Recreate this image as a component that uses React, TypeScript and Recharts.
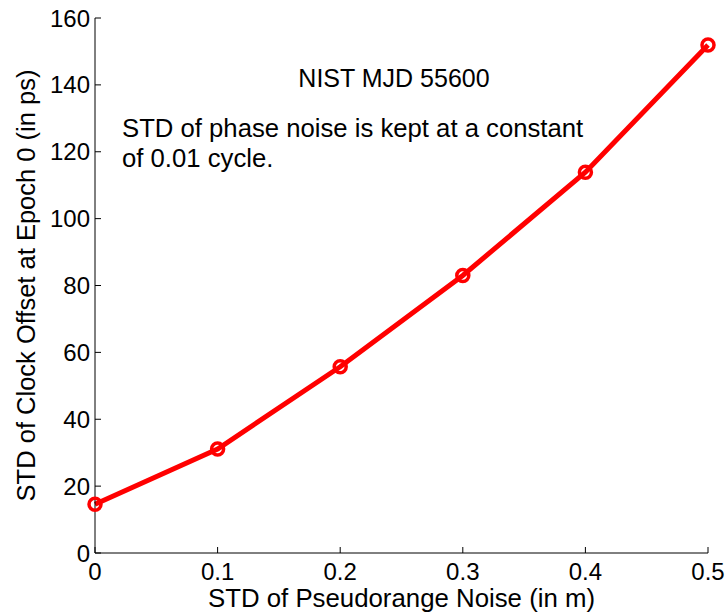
import { LineChart, Line, XAxis, YAxis, Label } from "recharts";

const noise = [0, 0.1, 0.2, 0.3, 0.4, 0.5];
const clockStd = [14.6, 31.1, 55.7, 83.0, 113.9, 151.9];
const xTicks = [0, 0.1, 0.2, 0.3, 0.4, 0.5];
const yTicks = [0, 20, 40, 60, 80, 100, 120, 140, 160];

const data = noise.map((x, i) => ({ x, y: clockStd[i] }));

const FONT = "'Liberation Sans', Arial, sans-serif";
const TICK = 6;

function BottomTick({ x, y, payload }: any) {
  return (
    <g>
      <line x1={x} y1={y} x2={x} y2={y - TICK} stroke="#000" />
      <text x={x} y={y + 27} textAnchor="middle" fontSize={24} fontFamily={FONT} fill="#000">
        {payload.value}
      </text>
    </g>
  );
}

function TopTick({ x, y }: any) {
  return <line x1={x} y1={y} x2={x} y2={y + TICK} stroke="#000" />;
}

function LeftTick({ x, y, payload }: any) {
  return (
    <g>
      <line x1={x} y1={y} x2={x + TICK} y2={y} stroke="#000" />
      <text x={x - 5} y={y + 8.5} textAnchor="end" fontSize={24} fontFamily={FONT} fill="#000">
        {payload.value}
      </text>
    </g>
  );
}

function RightTick({ x, y }: any) {
  return <line x1={x} y1={y} x2={x - TICK} y2={y} stroke="#000" />;
}

export default function App() {
  return (
    <div style={{ position: "absolute", left: 0, top: 0, width: 727, height: 615, background: "#fff" }}>
      <LineChart
        width={727}
        height={615}
        data={data}
        margin={{ top: 18, right: 19, left: 35, bottom: 0 }}
        style={{ overflow: "visible" }}
      >
        <XAxis
          dataKey="x"
          type="number"
          domain={[0, 0.5]}
          ticks={xTicks}
          tickSize={0}
          tickMargin={0}
          tickLine={false}
          height={62}
          axisLine={{ stroke: "#000" }}
          tick={<BottomTick />}
          interval={0}
        >
          <Label
            value="STD of Pseudorange Noise (in m)"
            position="insideBottom"
            offset={0}
            dy={-8}
            style={{ fontSize: 25.8, fontFamily: FONT, fill: "#000" }}
          />
        </XAxis>
        <XAxis
          xAxisId="top"
          dataKey="x"
          type="number"
          orientation="top"
          domain={[0, 0.5]}
          ticks={xTicks}
          tickSize={0}
          tickMargin={0}
          tickLine={false}
          height={0}
          axisLine={{ stroke: "#000" }}
          tick={<TopTick />}
          interval={0}
        />
        <YAxis
          type="number"
          domain={[0, 160]}
          ticks={yTicks}
          tickSize={0}
          tickMargin={0}
          tickLine={false}
          width={60}
          axisLine={{ stroke: "#000" }}
          tick={<LeftTick />}
          interval={0}
        >
          <Label
            value="STD of Clock Offset at Epoch 0 (in ps)"
            angle={-90}
            position="insideLeft"
            offset={0}
            dx={-9}
            style={{ fontSize: 25.5, fontFamily: FONT, fill: "#000", textAnchor: "middle" }}
          />
        </YAxis>
        <YAxis
          yAxisId="right"
          type="number"
          orientation="right"
          domain={[0, 160]}
          ticks={yTicks}
          tickSize={0}
          tickMargin={0}
          tickLine={false}
          width={0}
          axisLine={{ stroke: "#000" }}
          tick={<RightTick />}
          interval={0}
        />
        <Line
          dataKey="y"
          type="linear"
          stroke="#ff0000"
          strokeWidth={5}
          dot={{ r: 6, stroke: "#ff0000", strokeWidth: 3.5, fill: "none" }}
          isAnimationActive={false}
        />
        <text x={394} y={87} textAnchor="middle" fontSize={25} fontFamily={FONT} fill="#000">
          NIST MJD 55600
        </text>
        <text x={122} y={137} fontSize={25.7} fontFamily={FONT} fill="#000">
          STD of phase noise is kept at a constant
        </text>
        <text x={122} y={167} fontSize={25.7} fontFamily={FONT} fill="#000">
          of 0.01 cycle.
        </text>
      </LineChart>
    </div>
  );
}
